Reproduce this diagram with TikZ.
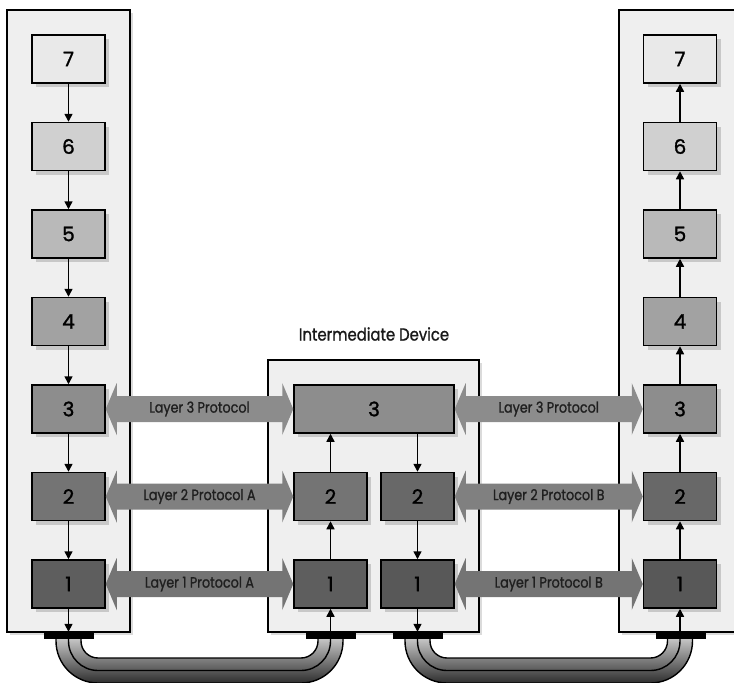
\documentclass[tikz,border=0pt]{standalone}
\usepackage{fontspec}
\setmainfont{Poppins}
\newfontfamily\fut[FakeStretch=0.85,FakeBold=1.1]{Poppins}
\newfontfamily\numfont[FakeBold=1.3]{Poppins}
\usetikzlibrary{arrows.meta,calc,shadows}
\definecolor{panelgray}{HTML}{EFEFEF}
\definecolor{cseven}{HTML}{E9E9E9}
\definecolor{csix}{HTML}{D0D0D0}
\definecolor{cfive}{HTML}{B9B9B9}
\definecolor{cfour}{HTML}{A2A2A2}
\definecolor{cthree}{HTML}{8D8D8D}
\definecolor{ctwo}{HTML}{747474}
\definecolor{cone}{HTML}{5E5E5E}
\definecolor{ctwob}{HTML}{686868}
\definecolor{coneb}{HTML}{585858}
\definecolor{athree}{HTML}{8C8C8C}
\definecolor{atwo}{HTML}{808080}
\definecolor{aone}{HTML}{747474}
\definecolor{shadowgray}{HTML}{C8C8C8}
\definecolor{cabletop}{HTML}{C4C4C4}
\definecolor{cablebot}{HTML}{2E2E2E}
\newcommand\protoarrow[4]{%
  \fill[#3] (#1.east) -- ($(#1.east)+(11,-26)$) -- ($(#1.east)+(11,-13)$)
    -- ($(#2.west)+(-11,-13)$) -- ($(#2.west)+(-11,-26)$) -- (#2.west)
    -- ($(#2.west)+(-11,26)$) -- ($(#2.west)+(-11,13)$)
    -- ($(#1.east)+(11,13)$) -- ($(#1.east)+(11,26)$) -- cycle;
  \path (#1.east) -- node[prototext]{#4} (#2.west);}
\newcommand\cableU[2]{%
  \fill[top color=cabletop, bottom color=cablebot]
    ({#1-12.5},639) -- ({#1-12.5},641) arc[start angle=180,end angle=90,radius=42]
    -- ({#2+12.5-42},683) arc[start angle=90,end angle=0,radius=42]
    -- ({#2+12.5},639) -- ({#2-12.5},639) -- ({#2-12.5},641)
    arc[start angle=0,end angle=90,radius=17]
    -- ({#1+12.5+17},658) arc[start angle=90,end angle=180,radius=17]
    -- ({#1+12.5},639) -- cycle;
  \draw[cableline] ({#1-12.5},639) -- ({#1-12.5},641) arc[start angle=180,end angle=90,radius=42]
    -- ({#2+12.5-42},683) arc[start angle=90,end angle=0,radius=42] -- ({#2+12.5},639);
  \draw[cableline] (#1,639) -- (#1,641) arc[start angle=180,end angle=90,radius=29.5]
    -- ({#2-29.5},670.5) arc[start angle=90,end angle=0,radius=29.5] -- (#2,639);
  \draw[cableline] ({#1+12.5},639) -- ({#1+12.5},641) arc[start angle=180,end angle=90,radius=17]
    -- ({#2-12.5-17},658) arc[start angle=90,end angle=0,radius=17] -- ({#2-12.5},639);}
\begin{document}
\begin{tikzpicture}[x=1pt,y=-1pt,
  panel/.style={draw=black, line width=1.5pt, fill=panelgray, inner sep=0pt,
    general shadow={shadow xshift=3pt, shadow yshift=-3pt, fill=black!14}},
  layerbox/.style={draw=black, line width=1.5pt, minimum width=73pt, minimum height=48pt,
    inner sep=0pt, font=\numfont\fontsize{20}{20}\selectfont,
    general shadow={shadow xshift=4pt, shadow yshift=-4pt, fill=shadowgray}},
  plate/.style={fill=black, draw=none, minimum width=50pt, minimum height=7pt, inner sep=0pt},
  conn/.style={line width=1.5pt, -{Triangle[length=8pt,width=8pt]}},
  cableline/.style={line width=1.4pt, black},
  prototext/.style={font=\fut\fontsize{15}{15}\selectfont, text=black!88},
  title/.style={font=\fut\fontsize{17.5}{17.5}\selectfont, text=black!90}]
\useasboundingbox (0,0) rectangle (734,683);
% panels
\node[panel, minimum width=123pt, minimum height=622pt] (LP) at (68.5,321) {};
\node[panel, minimum width=211pt, minimum height=272pt] (IP) at (373.5,496) {};
\node[panel, minimum width=123pt, minimum height=622pt] (RP) at (680.5,321) {};
% cables
\cableU{68.5}{330.5}
\cableU{417.5}{680}
% plates
\node[plate] (LPl) at (68.5,635.5) {};
\node[plate] (IPlL) at (331,635.5) {};
\node[plate] (IPlR) at (418,635.5) {};
\node[plate] (RPl) at (680.5,635.5) {};
% left stack
\node[layerbox, fill=cseven] (L7) at (68.5,59) {7};
\node[layerbox, fill=csix] (L6) at (68.5,146.5) {6};
\node[layerbox, fill=cfive] (L5) at (68.5,234) {5};
\node[layerbox, fill=cfour] (L4) at (68.5,321.5) {4};
\node[layerbox, fill=cthree] (L3) at (68.5,409) {3};
\node[layerbox, fill=ctwo] (L2) at (68.5,496.5) {2};
\node[layerbox, fill=cone] (L1) at (68.5,584) {1};
% right stack
\node[layerbox, fill=cseven] (R7) at (680,59) {7};
\node[layerbox, fill=csix] (R6) at (680,146.5) {6};
\node[layerbox, fill=cfive] (R5) at (680,234) {5};
\node[layerbox, fill=cfour] (R4) at (680,321.5) {4};
\node[layerbox, fill=cthree] (R3) at (680,409) {3};
\node[layerbox, fill=ctwob] (R2) at (680,496.5) {2};
\node[layerbox, fill=coneb] (R1) at (680,584) {1};
% intermediate
\node[layerbox, fill=cthree, minimum width=160pt] (I3) at (374,409) {3};
\node[layerbox, fill=ctwo] (I2L) at (330.5,496.5) {2};
\node[layerbox, fill=ctwob] (I2R) at (417.5,496.5) {2};
\node[layerbox, fill=cone] (I1L) at (330.5,584) {1};
\node[layerbox, fill=coneb] (I1R) at (417.5,584) {1};
\node[title] (T) at (374,334) {Intermediate Device};
% vertical connectors
\draw[conn] (L7) -- (L6);
\draw[conn] (L6) -- (L5);
\draw[conn] (L5) -- (L4);
\draw[conn] (L4) -- (L3);
\draw[conn] (L3) -- (L2);
\draw[conn] (L2) -- (L1);
\draw[conn] (L1) -- (L1 |- LPl.north);
\draw[conn] (R1 |- RPl.north) -- (R1);
\draw[conn] (R1) -- (R2);
\draw[conn] (R2) -- (R3);
\draw[conn] (R3) -- (R4);
\draw[conn] (R4) -- (R5);
\draw[conn] (R5) -- (R6);
\draw[conn] (R6) -- (R7);
\draw[conn] (I1L |- IPlL.north) -- (I1L);
\draw[conn] (I1L) -- (I2L);
\draw[conn] (I2L) -- (I2L.north |- I3.south);
\draw[conn] (I2R.north |- I3.south) -- (I2R);
\draw[conn] (I2R) -- (I1R);
\draw[conn] (I1R) -- (I1R |- IPlR.north);
% protocol arrows
\protoarrow{L3}{I3}{athree}{Layer 3 Protocol}
\protoarrow{I3}{R3}{athree}{Layer 3 Protocol}
\protoarrow{L2}{I2L}{atwo}{Layer 2 Protocol A}
\protoarrow{I2R}{R2}{atwo}{Layer 2 Protocol B}
\protoarrow{L1}{I1L}{aone}{Layer 1 Protocol A}
\protoarrow{I1R}{R1}{aone}{Layer 1 Protocol B}
\end{tikzpicture}
\end{document}
